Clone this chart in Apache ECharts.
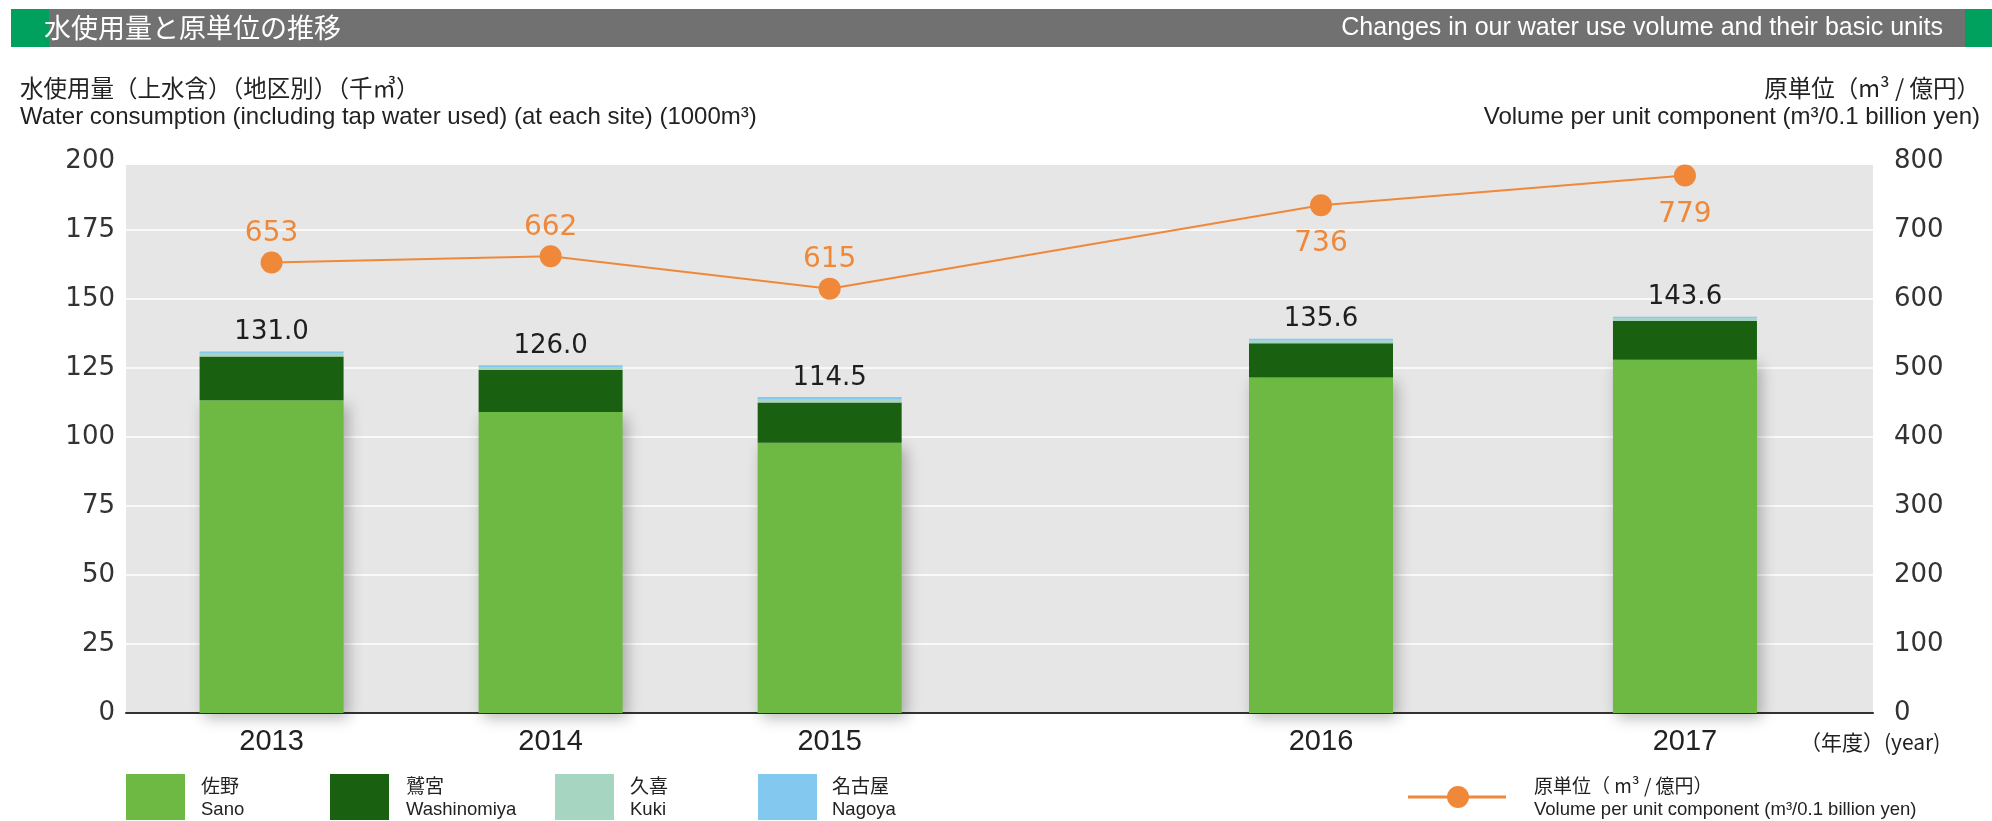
<!DOCTYPE html>
<html>
<head>
<meta charset="utf-8">
<script src="https://cdn.jsdelivr.net/npm/echarts@6/dist/echarts.min.js"></script>
<style>
html,body{margin:0;padding:0;background:#fff;}
#chart{width:1992px;height:821px;}
</style>
</head>
<body>
<div id="chart"></div>
<script>
// ---- data ----
const years = ['2013', '2014', '2015', '2016', '2017'];
const sano = [113.3, 109.1, 97.9, 121.6, 128.0];
const washinomiya = [15.9, 15.2, 14.6, 12.4, 14.0];
const kuki = [1.2, 1.1, 1.3, 1.0, 1.0];
const nagoya = [0.6, 0.6, 0.7, 0.6, 0.6];
const unitVolume = [653, 662, 615, 736, 779];
const seriesNames = ['佐野', '鷲宮', '久喜', '名古屋'];
const seriesNamesEn = ['Sano', 'Washinomiya', 'Kuki', 'Nagoya'];
const lineName = '原単位（ m³ / 億円）';
const lineNameEn = 'Volume per unit component (m³/0.1 billion yen)';

// ---- layout (category slots along the x axis) ----
const SLOT_COUNT = 289;
const yearSlot = [24, 70, 116, 197, 257];

const colors = ['#6db943', '#1a6011', '#a6d5c1', '#82c8ef'];
const orange = '#f0883a';

function spread(arr, blank) {
  const out = new Array(SLOT_COUNT).fill(blank);
  yearSlot.forEach((s, i) => { out[s] = arr[i]; });
  return out;
}
const totals = years.map((_, i) => sano[i] + washinomiya[i] + kuki[i] + nagoya[i]);

const lineData = new Array(SLOT_COUNT).fill(null);
yearSlot.forEach((s, i) => {
  const below = i >= 3;
  lineData[s] = {
    value: unitVolume[i],
    label: { position: below ? 'bottom' : 'top', distance: below ? 14 : 4 }
  };
});

const stacks = [sano, washinomiya, kuki, nagoya];
const barSeries = stacks.map((arr, k) => {
  const s = {
    name: seriesNames[k],
    type: 'bar',
    stack: 'water',
    barWidth: 144,
    data: spread(arr, null),
    itemStyle: { color: colors[k] },
    emphasis: { disabled: true },
    z: 2
  };
  if (k === 0) {
    s.itemStyle.shadowBlur = 14;
    s.itemStyle.shadowColor = 'rgba(0,0,0,0.28)';
    s.itemStyle.shadowOffsetX = 4;
    s.itemStyle.shadowOffsetY = 5;
  }
  if (k === stacks.length - 1) {
    s.label = {
      show: true,
      position: 'top',
      distance: 6,
      color: '#1e1e1e',
      fontFamily: 'DejaVu Sans',
      fontSize: 26,
      formatter: p => totals[yearSlot.indexOf(p.dataIndex)].toFixed(1)
    };
  }
  return s;
});

const legendGraphics = [];
const boxX = [126, 330, 555, 758];
const textX = [201, 406, 630, 832];
for (let k = 0; k < 4; k++) {
  legendGraphics.push({ type: 'rect', shape: { x: boxX[k], y: 774, width: 59, height: 46 }, style: { fill: colors[k] } });
  legendGraphics.push({ type: 'text', x: textX[k], y: 786, style: { text: seriesNames[k], fill: '#222', font: '19px "Noto Sans CJK JP"', verticalAlign: 'middle' } });
  legendGraphics.push({ type: 'text', x: textX[k], y: 810, style: { text: seriesNamesEn[k], fill: '#222', font: '18.5px "Liberation Sans"', verticalAlign: 'middle' } });
}
legendGraphics.push({ type: 'line', shape: { x1: 1408, y1: 797, x2: 1506, y2: 797 }, style: { stroke: orange, lineWidth: 3 } });
legendGraphics.push({ type: 'circle', shape: { cx: 1458, cy: 797, r: 11 }, style: { fill: orange } });
legendGraphics.push({ type: 'text', x: 1534, y: 786, style: { text: lineName, fill: '#222', font: '19px "Noto Sans CJK JP"', verticalAlign: 'middle' } });
legendGraphics.push({ type: 'text', x: 1534, y: 810, style: { text: lineNameEn, fill: '#222', font: '18.5px "Liberation Sans"', verticalAlign: 'middle' } });

const chart = echarts.init(document.getElementById('chart'), null, { renderer: 'canvas' });
chart.setOption({
  animation: false,
  backgroundColor: '#ffffff',
  grid: {
    left: 126, right: 119, top: 161, bottom: 108,
    show: false
  },
  xAxis: {
    type: 'category',
    boundaryGap: false,
    data: spread(years, ''),
    axisTick: { show: false },
    axisLine: { lineStyle: { color: '#333', width: 2 } },
    axisLabel: {
      interval: 0,
      margin: 14,
      color: '#222',
      fontFamily: 'Liberation Sans',
      fontSize: 29
    },
    splitLine: { show: false }
  },
  yAxis: [
    {
      type: 'value', min: 0, max: 200, interval: 25,
      axisLine: { show: false }, axisTick: { show: false },
      axisLabel: { margin: 11, color: '#333', fontFamily: 'DejaVu Sans', fontSize: 26 },
      splitLine: { lineStyle: { color: '#ffffff', width: 1.5 } }
    },
    {
      type: 'value', min: 0, max: 800, interval: 100,
      axisLine: { show: false }, axisTick: { show: false },
      axisLabel: { margin: 21, align: 'left', color: '#333', fontFamily: 'DejaVu Sans', fontSize: 26 },
      splitLine: { show: false }
    }
  ],
  series: barSeries.concat([{
    name: lineName,
    type: 'line',
    yAxisIndex: 1,
    data: lineData,
    connectNulls: true,
    showAllSymbol: true,
    symbol: 'circle',
    symbolSize: 22,
    itemStyle: { color: orange },
    lineStyle: { color: orange, width: 2 },
    label: { show: true, color: orange, fontFamily: 'DejaVu Sans', fontSize: 28 },
    emphasis: { disabled: true },
    z: 5
  }]),
  graphic: [
    { type: 'rect', z: -100, shape: { x: 126, y: 165, width: 1747, height: 548 }, style: { fill: '#e6e6e6' } },
    { type: 'rect', shape: { x: 49, y: 9, width: 1916, height: 38 }, style: { fill: '#717171' } },
    { type: 'rect', shape: { x: 11, y: 9, width: 38, height: 38 }, style: { fill: '#00a15f' } },
    { type: 'rect', shape: { x: 1965, y: 9, width: 27, height: 38 }, style: { fill: '#00a15f' } },
    { type: 'text', x: 44, y: 28, style: { text: '水使用量と原単位の推移', fill: '#fff', font: '27px "Noto Sans CJK JP"', verticalAlign: 'middle' } },
    { type: 'text', x: 1943, y: 28, style: { text: 'Changes in our water use volume and their basic units', fill: '#fff', font: '25px "Liberation Sans"', align: 'right', verticalAlign: 'middle' } },
    { type: 'text', x: 20, y: 88, style: { text: '水使用量（上水含）（地区別）（千㎥）', fill: '#222', font: '23.5px "Noto Sans CJK JP"', verticalAlign: 'middle' } },
    { type: 'text', x: 20, y: 117, style: { text: 'Water consumption (including tap water used) (at each site) (1000m³)', fill: '#222', font: '24px "Liberation Sans"', verticalAlign: 'middle' } },
    { type: 'text', x: 1980, y: 88, style: { text: '原単位（m³ / 億円）', fill: '#222', font: '23.5px "Noto Sans CJK JP"', align: 'right', verticalAlign: 'middle' } },
    { type: 'text', x: 1980, y: 117, style: { text: 'Volume per unit component (m³/0.1 billion yen)', fill: '#222', font: '24px "Liberation Sans"', align: 'right', verticalAlign: 'middle' } },
    { type: 'text', x: 1800, y: 742, style: { text: '（年度）(year)', fill: '#222', font: '21px "Noto Sans CJK JP"', verticalAlign: 'middle' } }
  ].concat(legendGraphics)
});
</script>
</body>
</html>
